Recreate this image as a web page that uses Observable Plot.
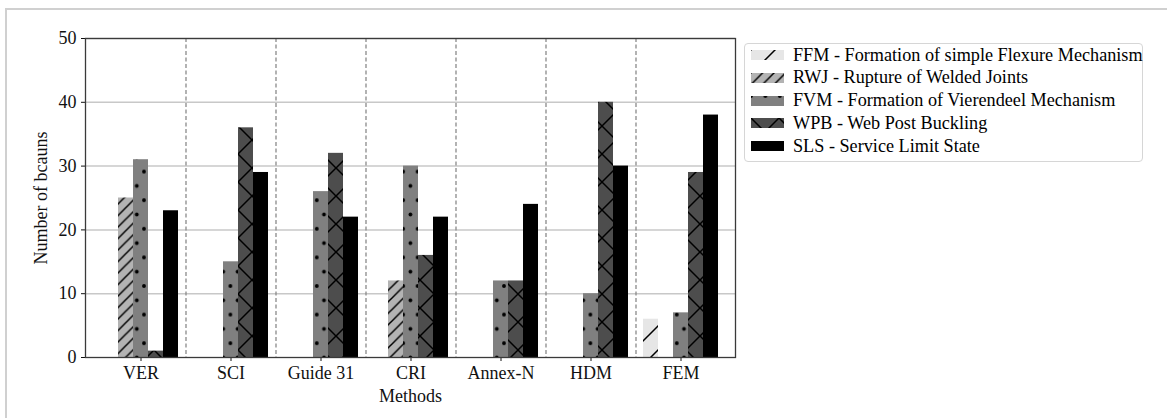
<!DOCTYPE html>
<html><head><meta charset="utf-8">
<script src="https://cdn.jsdelivr.net/npm/d3@7"></script>
<script src="https://cdn.jsdelivr.net/npm/@observablehq/plot@0.6"></script>
<style>
body{margin:0;background:#fff;}
#wrap{position:relative;width:1167px;height:418px;overflow:hidden;font-family:"Liberation Serif","Times New Roman",serif;background:#fff;}
#border{position:absolute;left:5px;top:8px;width:1200px;height:440px;border-top:2px solid #d0d0d0;border-left:2px solid #d0d0d0;}
#chart{position:absolute;left:0;top:0;}
#legend{position:absolute;left:744px;top:43px;width:397px;height:117px;border:1px solid #d6d6d6;border-radius:4px;background:#fff;}
.row{position:absolute;left:0;height:22px;display:flex;align-items:center;font-size:18.2px;color:#000;white-space:nowrap;}
.row svg{margin-left:6px;margin-right:9px;flex:none;}
#defs{position:absolute;width:0;height:0;}
</style></head>
<body>
<svg id="defs" width="0" height="0">
<defs>
<pattern id="pat-FFM" patternUnits="userSpaceOnUse" width="24" height="24">
<rect width="24" height="24" fill="#e6e6e6"/>
<path d="M-6,6L6,-6M0,24L24,0M18,30L30,18" stroke="#000" stroke-width="1.5"/>
</pattern>
<pattern id="pat-RWJ" patternUnits="userSpaceOnUse" width="11.5" height="11.5">
<rect width="11.5" height="11.5" fill="#b3b3b3"/>
<path d="M-3,3L3,-3M0,11.5L11.5,0M8.5,14.5L14.5,8.5" stroke="#000" stroke-width="1.5"/>
</pattern>
<pattern id="pat-FVM" patternUnits="userSpaceOnUse" width="14.4" height="28.6">
<rect width="14.4" height="28.6" fill="#808080"/>
<circle cx="0" cy="0" r="1.9" fill="#000"/><circle cx="14.4" cy="0" r="1.9" fill="#000"/>
<circle cx="0" cy="28.6" r="1.9" fill="#000"/><circle cx="14.4" cy="28.6" r="1.9" fill="#000"/>
<circle cx="7.2" cy="14.3" r="1.9" fill="#000"/>
</pattern>
<pattern id="pat-WPB" patternUnits="userSpaceOnUse" width="28" height="28">
<rect width="28" height="28" fill="#4d4d4d"/>
<path d="M-4,-4L32,32M-4,32L32,-4" stroke="#000" stroke-width="1.5"/>
</pattern>
</defs>
</svg>
<div id="wrap">
<div id="border"></div>
<div id="chart"></div>
<div id="legend"></div>
</div>
<script>
const methods = ["VER", "SCI", "Guide 31", "CRI", "Annex-N", "HDM", "FEM"];
const seriesNames = ["FFM", "RWJ", "FVM", "WPB", "SLS"];
const seriesLabels = [
  "FFM - Formation of simple Flexure Mechanism",
  "RWJ - Rupture of Welded Joints",
  "FVM - Formation of Vierendeel Mechanism",
  "WPB - Web Post Buckling",
  "SLS - Service Limit State"
];
const seriesFills = ["url(#pat-FFM)", "url(#pat-RWJ)", "url(#pat-FVM)", "url(#pat-WPB)", "#000000"];
const ffm = [0, 0, 0, 0, 0, 0, 6];
const rwj = [25, 0, 0, 12, 0, 0, 0];
const fvm = [31, 15, 26, 30, 12, 10, 7];
const wpb = [1, 36, 32, 16, 12, 40, 29];
const sls = [23, 29, 22, 22, 24, 30, 38];
const yTicks = [0, 10, 20, 30, 40, 50];

const valuesBySeries = [ffm, rwj, fvm, wpb, sls];

// composite band domain: a spacer slot around each group of five bars
const keys = [];
methods.forEach((m, i) => {
  keys.push("gap" + i);
  seriesNames.forEach(s => keys.push(m + "|" + s));
});
keys.push("gap" + methods.length);
const sepKeys = d3.range(1, methods.length).map(i => "gap" + i);
const tickKeys = methods.map(m => m + "|FVM");

const rows = seriesNames.flatMap((s, si) =>
  methods.map((m, mi) => ({series: s, method: m, key: m + "|" + s, value: valuesBySeries[si][mi]}))
);

const barMarks = seriesNames.map((s, si) =>
  Plot.barY(rows.filter(d => d.series === s && d.value > 0), {
    x: "key", y: "value", fill: seriesFills[si], inset: 0
  })
);

const chart = Plot.plot({
  width: 1167, height: 418,
  marginLeft: 85, marginRight: 432, marginTop: 38, marginBottom: 61,
  style: {fontFamily: "'Liberation Serif', 'Times New Roman', serif", fontSize: "18px", color: "#111", background: "transparent"},
  x: {type: "band", domain: keys, padding: 0, ticks: tickKeys, tickFormat: d => d.split("|")[0],
      label: "Methods", labelAnchor: "center", labelOffset: 44, labelArrow: "none", tickSize: 4, tickPadding: 5},
  y: {domain: [0, 50], ticks: yTicks, label: "Number of bcauns", labelAnchor: "center", labelOffset: 51,
      labelArrow: "none", tickSize: 4, tickPadding: 5},
  marks: [
    Plot.ruleY(yTicks.slice(1), {stroke: "#c8c8c8", strokeWidth: 1.5}),
    Plot.ruleX(sepKeys, {stroke: "#8a8a8a", strokeWidth: 1.3, strokeDasharray: "4,2.5"}),
    ...barMarks,
    Plot.frame({stroke: "#3a3a3a", strokeWidth: 1.3})
  ]
});
document.getElementById("chart").appendChild(chart);

// legend
const legend = document.getElementById("legend");
seriesNames.forEach((s, i) => {
  const row = document.createElement("div");
  row.className = "row";
  row.style.top = (0 + i * 22.75) + "px";
  row.innerHTML = `<svg width="33" height="10"><rect width="33" height="10" fill="${seriesFills[i]}"/></svg><span>${seriesLabels[i]}</span>`;
  legend.appendChild(row);
});
</script>
</body></html>
